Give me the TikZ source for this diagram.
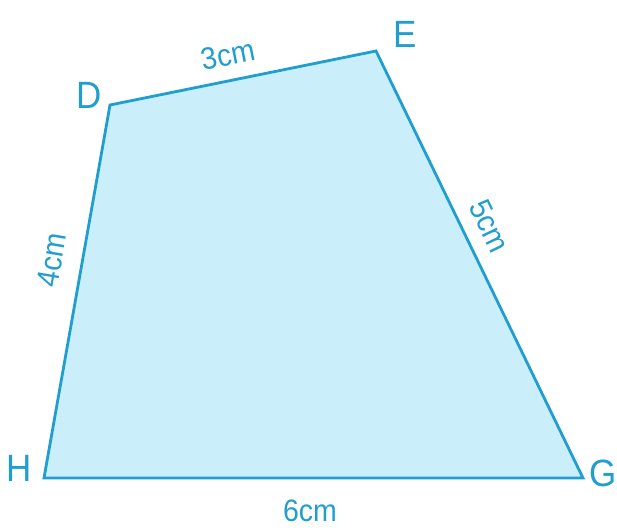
\documentclass[tikz,border=0pt]{standalone}
\usepackage{fontspec}
\setmainfont{Liberation Sans}[FakeStretch=0.92]
\usepackage{tikz}

\definecolor{edgeblue}{RGB}{32,158,208}
\definecolor{fillblue}{RGB}{202,238,250}
\tikzset{vertexlabel/.style={text=edgeblue,inner sep=0pt,font=\fontsize{38}{38}\selectfont},
  sidelabel/.style={text=edgeblue,inner sep=0pt,font=\fontsize{31}{31}\selectfont}}

\begin{document}
\begin{tikzpicture}[x=1pt,y=-1pt]
\useasboundingbox (0,0) rectangle (617,529);

\coordinate (D) at (110,105);
\coordinate (E) at (376,51);
\coordinate (G) at (583,478);
\coordinate (H) at (44,478);

\filldraw[fill=fillblue,draw=edgeblue,line width=2.8pt] (D) -- (E) -- (G) -- (H) -- cycle;

\node[vertexlabel] (nameD) at (89,95) {D};
\node[vertexlabel] (nameE) at (405,34) {E};
\node[vertexlabel] (nameG) at (603,473) {G};
\node[vertexlabel] (nameH) at (19,468) {H};

\node[sidelabel,rotate=11.3] (lenDE) at (228,55) {3cm};
\node[sidelabel,rotate=-64.3] (lenEG) at (490,226) {5cm};
\node[sidelabel,rotate=80.2] (lenDH) at (52,260) {4cm};
\node[sidelabel] (lenHG) at (310,511) {6cm};
\end{tikzpicture}
\end{document}
